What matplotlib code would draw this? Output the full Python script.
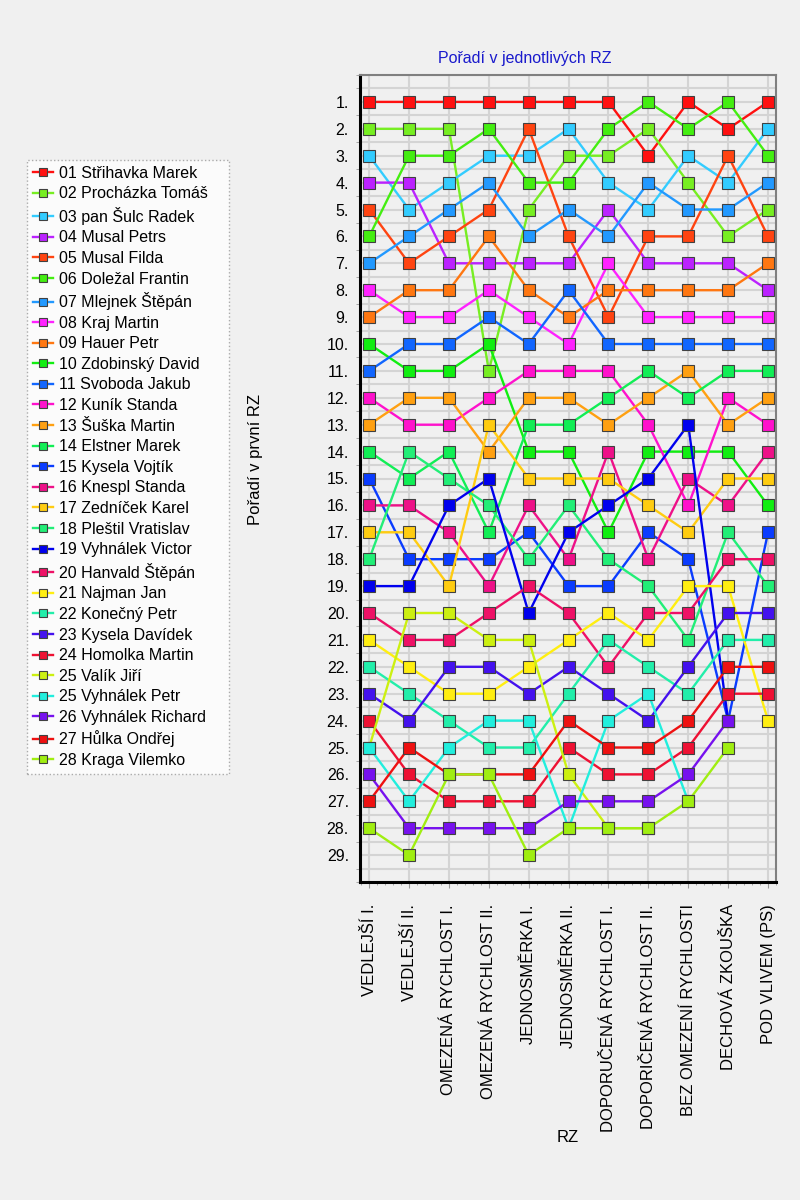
import numpy as np
import matplotlib
matplotlib.use('Agg')
import matplotlib.pyplot as plt
from matplotlib.ticker import MultipleLocator

plt.rcParams['font.family'] = ['Liberation Sans', 'DejaVu Sans']

stages = ['VEDLEJŠÍ I.', 'VEDLEJŠÍ II.', 'OMEZENÁ RYCHLOST I.', 'OMEZENÁ RYCHLOST II.',
          'JEDNOSMĚRKA I.', 'JEDNOSMĚRKA II.', 'DOPORUČENÁ RYCHLOST I.',
          'DOPORIČENÁ RYCHLOST II.', 'BEZ OMEZENÍ RYCHLOSTI', 'DECHOVÁ ZKOUŠKA',
          'POD VLIVEM (PS)']

names = ['01 Střihavka Marek', '02 Procházka Tomáš', '03 pan Šulc Radek', '04 Musal Petrs',
         '05 Musal Filda', '06 Doležal Frantin', '07 Mlejnek Štěpán', '08 Kraj Martin',
         '09 Hauer Petr', '10 Zdobinský David', '11 Svoboda Jakub', '12 Kuník Standa',
         '13 Šuška Martin', '14 Elstner Marek', '15 Kysela Vojtík', '16 Knespl Standa',
         '17 Zedníček Karel', '18 Pleštil Vratislav', '19 Vyhnálek Victor',
         '20 Hanvald Štěpán', '21 Najman Jan', '22 Konečný Petr', '23 Kysela Davídek',
         '24 Homolka Martin', '25 Valík Jiří', '25 Vyhnálek Petr', '26 Vyhnálek Richard',
         '27 Hůlka Ondřej', '28 Kraga Vilemko']

# rank of each driver in each stage (None = did not continue)
N = None
ranks = [
    [1, 1, 1, 1, 1, 1, 1, 3, 1, 2, 1],
    [2, 2, 2, 11, 5, 3, 3, 2, 4, 6, 5],
    [3, 5, 4, 3, 3, 2, 4, 5, 3, 4, 2],
    [4, 4, 7, 7, 7, 7, 5, 7, 7, 7, 8],
    [5, 7, 6, 5, 2, 6, 9, 6, 6, 3, 6],
    [6, 3, 3, 2, 4, 4, 2, 1, 2, 1, 3],
    [7, 6, 5, 4, 6, 5, 6, 4, 5, 5, 4],
    [8, 9, 9, 8, 9, 10, 7, 9, 9, 9, 9],
    [9, 8, 8, 6, 8, 9, 8, 8, 8, 8, 7],
    [10, 11, 11, 10, 14, 14, 17, 14, 14, 14, 16],
    [11, 10, 10, 9, 10, 8, 10, 10, 10, 10, 10],
    [12, 13, 13, 12, 11, 11, 11, 13, 16, 12, 13],
    [13, 12, 12, 14, 12, 12, 13, 12, 11, 13, 12],
    [14, 15, 14, 17, 13, 13, 12, 11, 12, 11, 11],
    [15, 18, 18, 18, 17, 19, 19, 17, 18, 24, 17],
    [16, 16, 17, 19, 16, 18, 14, 18, 15, 16, 14],
    [17, 17, 19, 13, 15, 15, 15, 16, 17, 15, 15],
    [18, 14, 15, 16, 18, 16, 18, 19, 21, 17, 19],
    [19, 19, 16, 15, 20, 17, 16, 15, 13, 24, N],
    [20, 21, 21, 20, 19, 20, 22, 20, 20, 18, 18],
    [21, 22, 23, 23, 22, 21, 20, 21, 19, 19, 24],
    [22, 23, 24, 25, 25, 23, 21, 22, 23, 21, 21],
    [23, 24, 22, 22, 23, 22, 23, 24, 22, 20, 20],
    [24, 26, 27, 27, 27, 25, 26, 26, 25, 23, 23],
    [25, 20, 20, 21, 21, 26, 28, 28, N, N, N],
    [25, 27, 25, 24, 24, 28, 24, 23, 27, N, N],
    [26, 28, 28, 28, 28, 27, 27, 27, 26, 24, N],
    [27, 25, 26, 26, 26, 24, 25, 25, 24, 22, 22],
    [28, 29, 26, 26, 29, 28, 28, 28, 27, 25, N],
]

colors = ['#ff1010', '#77ee22', '#33ccff', '#bb22ff', '#ff4411', '#44ee11', '#2299ff',
          '#ff22ff', '#ff7711', '#11ee11', '#1166ff', '#ff11cc', '#ffa011', '#11ee55',
          '#0a3cff', '#ee1188', '#ffcc11', '#22ee77', '#0000ee', '#ee1166', '#ffee11',
          '#22eeaa', '#4411ee', '#ee1133', '#ccf011', '#22eedd', '#7711ee', '#ee1111',
          '#a0ee11']

bg = '#f0f0f0'
fig = plt.figure(figsize=(8, 12), dpi=100, facecolor=bg)
ax = fig.add_axes([0.45, 0.265, 0.52, 0.6725], facecolor=bg)

x = np.arange(len(stages))
for name, r, c in zip(names, ranks, colors):
    y = np.array([np.nan if v is None else v for v in r], dtype=float)
    ax.plot(x, y, '-s', color=c, lw=1.7, ms=8, mfc=c, mec='#404040', mew=0.8, label=name)

ax.set_xlim(-0.23, len(stages) - 1 + 0.2)
ax.set_ylim(30, 0)
ax.set_yticks(np.arange(1, 30))
ax.set_yticklabels([f'{i}.' for i in range(1, 30)], fontsize=11.5)
ax.yaxis.set_minor_locator(MultipleLocator(0.5))
ax.set_xticks(x)
ax.set_xticklabels(stages, rotation=90, fontsize=12, va='top')
ax.xaxis.set_minor_locator(MultipleLocator(0.2))
ax.tick_params(axis='y', which='major', length=0, pad=8)
ax.tick_params(axis='y', which='minor', length=3, color='#999999')
ax.tick_params(axis='x', which='major', length=4, color='#999999', pad=12)
ax.tick_params(axis='x', which='minor', length=2, color='#999999')
ax.grid(True, which='major', axis='x', color='#d4d4d4', lw=1.5)
ax.grid(True, which='both', axis='y', color='#d4d4d4', lw=1.5)
ax.set_axisbelow(True)

for s in ['left', 'bottom']:
    ax.spines[s].set_color('black')
    ax.spines[s].set_linewidth(2.2)
for s in ['top', 'right']:
    ax.spines[s].set_color('#808080')
    ax.spines[s].set_linewidth(1.5)

fig.text(0.656, 0.951, 'Pořadí v jednotlivých RZ', color='#1a1acc', fontsize=11.5, ha='center', va='center')
fig.text(0.319, 0.617, 'Pořadí v první RZ', rotation=90, fontsize=12, ha='center', va='center')
fig.text(0.71, 0.052, 'RZ', fontsize=12, ha='center', va='center')

leg_box = (27 / 800, 1 - 775 / 1200, 202 / 800, 615 / 1200)
leg = fig.legend(loc='upper left', bbox_to_anchor=leg_box, mode='expand',
                 fontsize=11.5, frameon=True, fancybox=False, labelspacing=0.35,
                 handlelength=1.3, handletextpad=0.35, borderpad=0.35, borderaxespad=0)
fr = leg.get_frame()
fr.set_facecolor('white')
fr.set_edgecolor('#999999')
fr.set_linestyle(':')
fr.set_linewidth(1)
for h in leg.legend_handles:
    h.set_markersize(6)

fig.savefig('out.png', dpi=100, facecolor=bg)
